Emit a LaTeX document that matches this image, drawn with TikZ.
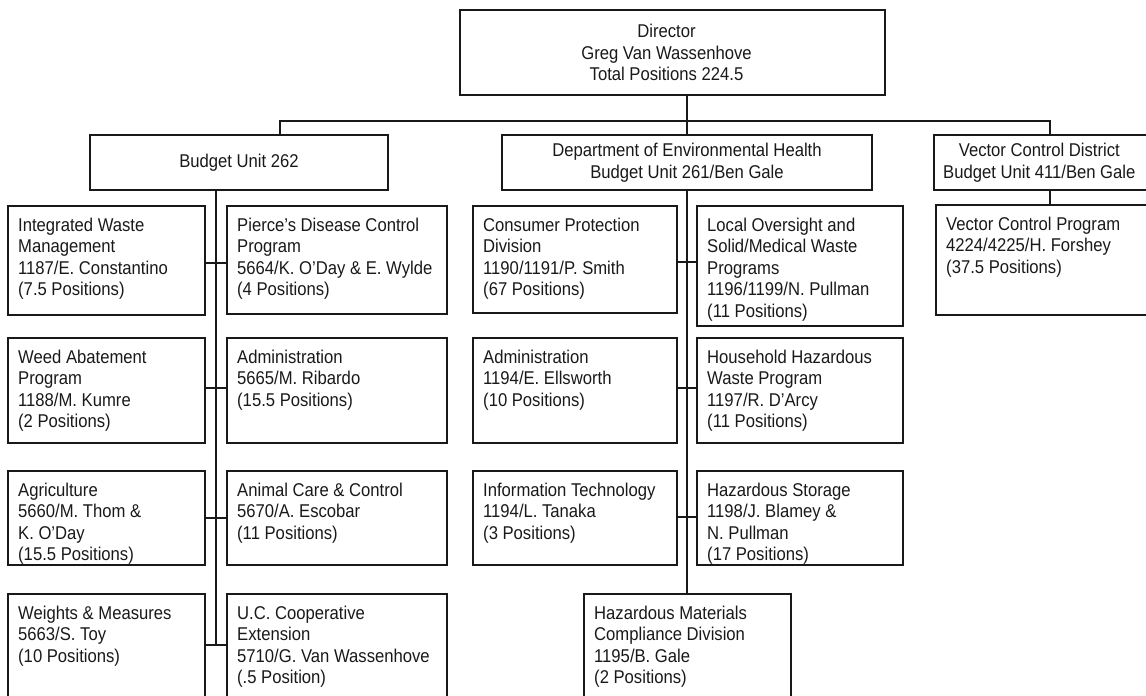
\documentclass[tikz,border=0pt]{standalone}
\usepackage{fontspec}
\setmainfont{Liberation Sans}[FakeStretch=0.9]
\begin{document}
\begin{tikzpicture}[x=1pt,y=-1pt,
  box/.style={draw=black!90, line width=1.8pt, rectangle, inner sep=0pt, outer sep=0pt},
  txt/.style={inner sep=0pt, align=left, text=black!90, font=\fontsize{18.5}{21.5}\selectfont},
  ctxt/.style={txt, align=center},
  wire/.style={draw=black!90, line width=1.8pt}]
\clip (0,0) rectangle (1146,696);
\useasboundingbox (0,0) rectangle (1146,696);

% box with top-left corner, width, height and left-aligned text
\newcommand\orgbox[6]{%
  \node[box, minimum width=#4pt, minimum height=#5pt, anchor=north west] (#1) at (#2,#3) {};
  \node[txt, anchor=north west] (#1t) at ([shift={(10pt,-10pt)}]#1.north west) {\rule{0pt}{15pt}#6};}

% header boxes
\node[box, minimum width=425pt, minimum height=85pt, anchor=north west] (dir) at (460,10) {};
\node[ctxt] (dirt) at ([xshift=-6pt]dir.center) {Director\\Greg Van Wassenhove\\ Total Positions 224.5};
\node[box, minimum width=298pt, minimum height=55pt, anchor=north west] (b262) at (90,135) {};
\node[ctxt] (b262t) at (b262.center) {Budget Unit 262};
\node[box, minimum width=370pt, minimum height=55pt, anchor=north west] (deh) at (502,135) {};
\node[ctxt] (deht) at (deh.center) {Department of Environmental Health\\Budget Unit 261/Ben Gale};
\node[box, minimum width=230pt, minimum height=55pt, anchor=north west] (vcd) at (934,135) {};
\node[ctxt, anchor=west] (vcdt) at ([xshift=9pt]vcd.west) {Vector Control District\\Budget Unit 411/Ben Gale};

% Budget Unit 262 programs
\orgbox{iwm}{8}{206}{197}{109}{Integrated Waste\\Management\\1187/E. Constantino\\(7.5 Positions)}
\orgbox{pdc}{227}{206}{220}{108}{Pierce’s Disease Control\\Program\\5664/K. O’Day \& E. Wylde\\(4 Positions)}
\orgbox{wap}{8}{338}{197}{105}{Weed Abatement\\Program\\1188/M. Kumre\\(2 Positions)}
\orgbox{adma}{227}{338}{220}{105}{Administration\\5665/M. Ribardo\\(15.5 Positions)}
\orgbox{agr}{8}{471}{197}{94}{Agriculture\\5660/M. Thom \&\\K. O’Day\\(15.5 Positions)}
\orgbox{acc}{227}{471}{220}{94}{Animal Care \& Control\\5670/A. Escobar\\(11 Positions)}
\orgbox{wm}{8}{594}{197}{130}{Weights \& Measures\\5663/S. Toy\\(10 Positions)}
\orgbox{uce}{227}{594}{220}{130}{U.C. Cooperative\\Extension\\5710/G. Van Wassenhove\\(.5 Position)}

% Environmental Health programs
\orgbox{cpd}{473}{206}{204}{107}{Consumer Protection\\Division\\1190/1191/P. Smith\\(67 Positions)}
\orgbox{los}{697}{206}{206}{120}{Local Oversight and\\Solid/Medical Waste\\Programs\\1196/1199/N. Pullman\\(11 Positions)}
\orgbox{admb}{473}{338}{204}{105}{Administration\\1194/E. Ellsworth\\(10 Positions)}
\orgbox{hhw}{697}{338}{206}{105}{Household Hazardous\\Waste Program\\1197/R. D’Arcy\\(11 Positions)}
\orgbox{itec}{473}{471}{204}{94}{Information Technology\\1194/L. Tanaka\\(3 Positions)}
\orgbox{hst}{697}{471}{206}{94}{Hazardous Storage\\1198/J. Blamey \&\\N. Pullman\\(17 Positions)}
\orgbox{hmc}{584}{594}{207}{130}{Hazardous Materials\\Compliance Division\\1195/B. Gale\\(2 Positions)}

% Vector Control program
\orgbox{vcp}{936}{205}{230}{110}{Vector Control Program\\4224/4225/H. Forshey\\(37.5 Positions)}

% top bus
\coordinate (busL) at (280,121);
\coordinate (busM) at (687,121);
\coordinate (busR) at (1050,121);
\draw[wire] (busL |- b262.north) -- (busL) -- (busR) -- (busR |- vcd.north);
\draw[wire] (busM |- dir.south) -- (busM |- deh.north);
\draw[wire] (busR |- vcd.south) -- (busR |- vcp.north);

% left spine and rows
\coordinate (la) at (216,263);
\coordinate (lb) at (216,388);
\coordinate (lc) at (216,518);
\coordinate (ld) at (216,645);
\draw[wire] (ld |- b262.south) -- (ld);
\draw[wire] (iwm.east |- la) -- (pdc.west |- la);
\draw[wire] (wap.east |- lb) -- (adma.west |- lb);
\draw[wire] (agr.east |- lc) -- (acc.west |- lc);
\draw[wire] (wm.east |- ld) -- (uce.west |- ld);

% middle spine and rows
\coordinate (ma) at (687,262);
\coordinate (mb) at (687,388);
\coordinate (mc) at (687,517);
\draw[wire] (ma |- deh.south) -- (ma |- hmc.north);
\draw[wire] (cpd.east |- ma) -- (los.west |- ma);
\draw[wire] (admb.east |- mb) -- (hhw.west |- mb);
\draw[wire] (itec.east |- mc) -- (hst.west |- mc);
\end{tikzpicture}
\end{document}
